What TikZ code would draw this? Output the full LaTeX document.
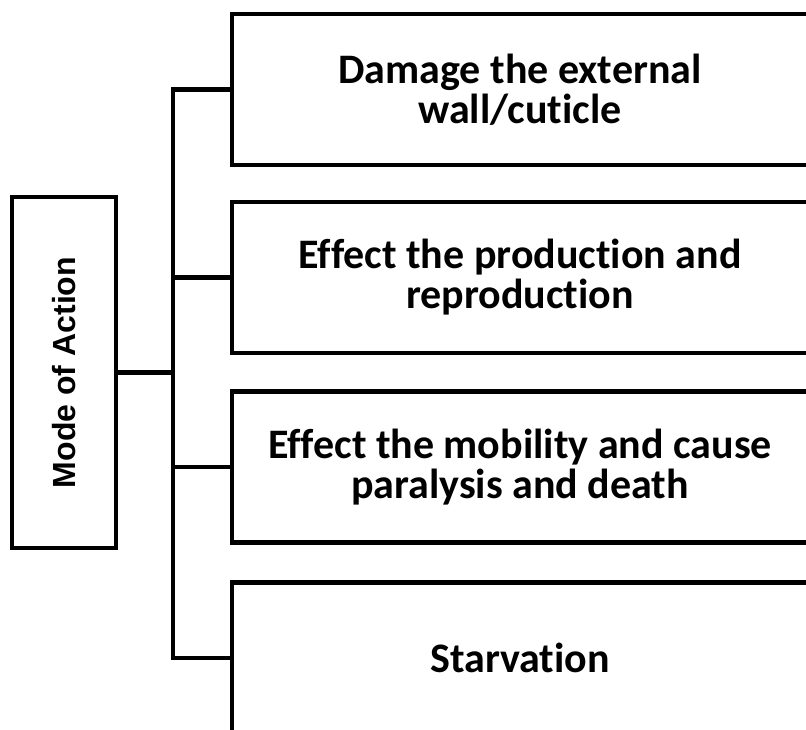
\documentclass[tikz,border=0pt]{standalone}
\usepackage{fontspec}
\setmainfont[Ligatures=NoCommon]{Carlito}
\newfontfamily\arialfont[BoldFont={Liberation Sans Bold}]{Liberation Sans}
\begin{document}
\begin{tikzpicture}[x=1pt,y=-1pt,
  line width=4.2pt,
  itembox/.style={draw, rectangle, minimum width=576pt, minimum height=151pt, inner sep=0pt,
    align=center, font=\bfseries\fontsize{42}{40}\selectfont},
  moabox/.style={draw, rectangle, minimum width=104pt, minimum height=351pt, inner sep=0pt},
  link/.style={line width=4.2pt}]
\useasboundingbox (0,0) rectangle (806,729);
\clip (0,0) rectangle (806,729);
\node[moabox] (moa) at (64,372.5) {};
\node[rotate=90, font=\arialfont\bfseries\fontsize{32}{34}\selectfont] (moatext) at (moa.center) {Mode of Action};
\node[itembox] (b1) at (520,89.5) {Damage the external\\wall/cuticle};
\node[itembox] (b2) at (520,277.5) {Effect the production and\\reproduction};
\node[itembox] (b3) at (520,467) {Effect the mobility and cause\\paralysis and death};
\node[itembox] (b4) at (520,658) {Starvation};
\coordinate (t) at (173,0);
\draw[link] (b1.west) -- (b1.west -| t) -- (b4.west -| t) -- (b4.west);
\draw[link] (moa.east) -- (moa.east -| t);
\draw[link] (b2.west) -- (b2.west -| t);
\draw[link] (b3.west) -- (b3.west -| t);
\end{tikzpicture}
\end{document}
